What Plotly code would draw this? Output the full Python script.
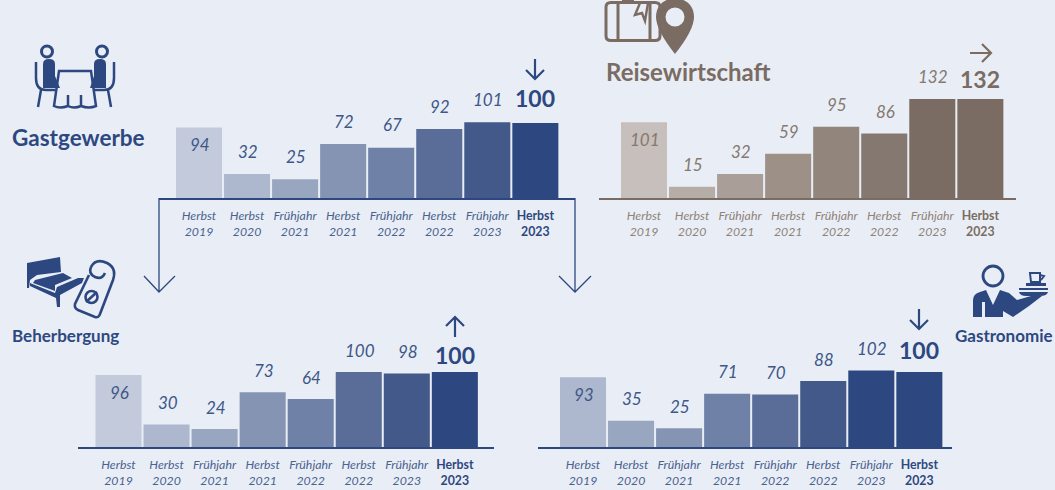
import plotly.graph_objects as go

WIDTH, HEIGHT = 1055, 490
BG = "#E9EEF6"
NAVY = "#2D4880"
BROWN = "#7A6C62"

seasons = ["Herbst", "Herbst", "Frühjahr", "Herbst", "Frühjahr", "Herbst", "Frühjahr", "Herbst"]
years = ["2019", "2020", "2021", "2021", "2022", "2022", "2023", "2023"]

gastgewerbe = [94, 32, 25, 72, 67, 92, 101, 100]
reisewirtschaft = [101, 15, 32, 59, 95, 86, 132, 132]
beherbergung = [96, 30, 24, 73, 64, 100, 98, 100]
gastronomie = [93, 35, 25, 71, 70, 88, 102, 100]

navy_a = ["#C2CADB", "#ADB8CE", "#98A6BF", "#8594B2", "#6F81A6", "#5A6C98", "#42598A", "#2D4880"]
navy_b = ["#ADB8CE", "#98A6BF", "#8594B2", "#6F81A6", "#5A6C98", "#42598A", "#2D4880", "#2D4880"]
brown_a = ["#C7BFBB", "#B7ADA7", "#A99F98", "#9C9087", "#92857C", "#857870", "#7A6C62", "#7A6C62"]

# name, values, colours, main, tick colour, value colour, first bar centre, line left, line right, baseline, label shift, last shift
panels = [
    ("gast", gastgewerbe, navy_a, NAVY, "#4A6290", "#3D5787", 199, 159, 575, 198, 23, 25),
    ("reise", reisewirtschaft, brown_a, BROWN, "#8E8279", "#857870", 644, 599, 1016, 198, 22.5, 20),
    ("beher", beherbergung, navy_a, NAVY, "#4A6290", "#3D5787", 118.5, 78, 494, 447, 22, 17),
    ("gastro", gastronomie, navy_b, NAVY, "#4A6290", "#3D5787", 583, 538, 952, 447, 22, 22),
]
STEP = 48.05
PX_PER_UNIT = 0.75
PLOT_PX = 120

fig = go.Figure()
annotations = []
layout_axes = {}

for i, (name, values, colors, main, tickc, valc, x0, left, right, base, lab, lastlab) in enumerate(panels, start=1):
    xa, ya = f"x{i}", f"y{i}"
    ticktext = [f"<i>{s}<br>{y}</i>" for s, y in zip(seasons[:-1], years[:-1])]
    ticktext.append(f'<b><span style="color:{main}">{seasons[-1]}<br>{years[-1]}</span></b>')
    fig.add_trace(go.Bar(x=list(range(len(values))), y=values, marker=dict(color=colors, line_width=0),
                         xaxis=xa, yaxis=ya, showlegend=False, hoverinfo="skip"))
    suffix = "" if i == 1 else str(i)
    layout_axes["xaxis" + suffix] = dict(
        domain=[left / WIDTH, right / WIDTH], range=[(left - x0) / STEP, (right - x0) / STEP],
        anchor=ya, tickmode="array", tickvals=list(range(8)), ticktext=ticktext,
        tickfont=dict(family="Lato", size=12.3, color=tickc), tickangle=0, ticks="",
        ticklabelstandoff=5, showgrid=False, zeroline=False, showline=True, linecolor=main, linewidth=1.5,
    )
    layout_axes["yaxis" + suffix] = dict(
        domain=[1 - base / HEIGHT, 1 - (base - PLOT_PX) / HEIGHT], range=[0, PLOT_PX / PX_PER_UNIT],
        anchor=xa, visible=False,
    )
    for k, v in enumerate(values):
        last = k == len(values) - 1
        shift = -17 if k == 0 else (lastlab if last else lab)
        annotations.append(dict(
            x=k, y=v, xref=xa, yref=ya, yshift=shift, xshift=0 if last else 1,
            showarrow=False, yanchor="middle", xanchor="center",
            text=f"<b>{v}</b>" if last else f"<i>{v}</i>",
            font=dict(family="Lato", size=23 if last else 17, color=main if last else valc),
        ))

# full-page pixel layer for the icons, connectors and headings
fig.add_trace(go.Scatter(x=[], y=[], xaxis="x5", yaxis="y5", showlegend=False, hoverinfo="skip"))
layout_axes["xaxis5"] = dict(domain=[0, 1], range=[0, WIDTH], visible=False, anchor="y5")
layout_axes["yaxis5"] = dict(domain=[0, 1], range=[HEIGHT, 0], visible=False, anchor="x5")

shapes = []


def fill(path, color=NAVY):
    shapes.append(dict(type="path", path=path, xref="x5", yref="y5", fillcolor=color, line_width=0, layer="above"))


def stroke(path, color=NAVY, w=1.5):
    shapes.append(dict(type="path", path=path, xref="x5", yref="y5", line=dict(color=color, width=w), layer="above"))


def ring(cx, cy, r, color=NAVY, w=2.5):
    shapes.append(dict(type="circle", xref="x5", yref="y5", x0=cx - r, x1=cx + r, y0=cy - r, y1=cy + r,
                       line=dict(color=color, width=w), fillcolor="rgba(0,0,0,0)", layer="above"))


def disc(cx, cy, r, color):
    shapes.append(dict(type="circle", xref="x5", yref="y5", x0=cx - r, x1=cx + r, y0=cy - r, y1=cy + r,
                       line_width=0, fillcolor=color, layer="above"))


# connector arrows from the Gastgewerbe chart
stroke("M159,198 L159,292 M144,276 L159,292 L175,276", NAVY, 1.3)
stroke("M575,198 L575,292 M559,276 L575,292 L591,276", NAVY, 1.3)

# trend arrows
stroke("M535,59 L535,79 M526,70 L535,79 L544,70", NAVY, 2.2)
stroke("M970,53 L990,53 M982,44 L991,53 L982,62", BROWN, 2.2)
stroke("M455,337 L455,317 M446,326 L455,317 L464,326", NAVY, 2.2)
stroke("M919,309 L919,329 M910,320 L919,329 L928,320", NAVY, 2.2)

# table icon
ring(47, 51.5, 5.5, NAVY, 3)
ring(102, 51.5, 5.5, NAVY, 3)
fill("M43,64 Q43,59 49,59 Q55,59 55,64 L55,76 L60,88 L43,88 Z")
fill("M106,64 Q106,59 100,59 Q94,59 94,64 L94,76 L90,88 L106,88 Z")
stroke("M36,62 L36,78 Q36,90 46,90 L55,90 M41,90 L38,107 M114,62 L114,78 Q114,90 104,90 L94,90 M108,90 L111,107", NAVY, 2.5)
stroke("M59,71 L91,71 L96,106 Q89,109 81,106 Q74,109 68,106 Q60,109 54,106 Z M68,95 L68,106 M81,95 L81,106", NAVY, 2.5)

# suitcase and pin icon
stroke("M611,2.5 L655,2.5 Q660,2.5 660,7 L660,36 Q660,40.5 655,40.5 L611,40.5 Q606,40.5 606,36 L606,7 Q606,2.5 611,2.5 Z M618,2 L618,41 M650,2 L650,41 M622,0.5 L634,0.5", BROWN, 3)
stroke("M640,3 L635,15 L642,13 L645,21 L648,3", BROWN, 2.4)
fill("M675,54 Q656,30 656,17 C656,-8 694,-8 694,17 Q694,30 675,54 Z", BROWN)
disc(675, 17, 9.5, BG)

# bed and door-hanger icon
fill("M27,263 L60,257 L61,272 L37,275 L30,280 L29,288 L27,288 Z")
fill("M35,280 L63,273 L72,278 L55,285 L55,291 L33,283 Z")
fill("M30,283 L55,293 L57,287 L78,278 L84,278 L82,283 L60,295 L60,307 L57,307 L56,298 L30,286 Z")
stroke("M89,275 L75,304 Q74,308 78,310 L95,317 Q99,318 100,314 L113,280 Q117,268 107,263 Q96,258 91,267 M91,267 Q88,274 95,277 Q102,280 105,273", NAVY, 2.6)
ring(91.5, 297, 6, NAVY, 2.6)
stroke("M86,302 L97,292", NAVY, 2.6)

# waiter icon
ring(993, 276, 10, NAVY, 2.8)
fill("M973,317 L973,300 Q973,294 980,292 L986,290 L993,305 L1000,290 L1009,293 L1017,300 L1031,296 L1042,296 L1029,306 L1013,317 L1003,311 L1003,317 L985,317 L985,302 L982,302 L982,317 Z")
fill("M1019,288 L1048,288 L1048,290 L1019,290 Z M1019,292 L1048,292 Q1047,296 1040,296 L1026,296 Q1020,296 1019,292 Z")
fill("M1026,283 L1046,283 L1046,286 L1026,286 Z")
stroke("M1030,273 L1040,273 L1040,282 L1031,282 Z M1040,275 L1044,276 L1041,280", NAVY, 2)

# headings
for text, x, y, size, color, anchor in [
    ("Gastgewerbe", 10, 137, 22.5, NAVY, "left"),
    ("Reisewirtschaft", 604, 71, 24, BROWN, "left"),
    ("Beherbergung", 10, 335, 17, NAVY, "left"),
    ("Gastronomie", 953, 335, 17, NAVY, "left"),
]:
    annotations.append(dict(x=x, y=y, xref="x5", yref="y5", xanchor=anchor, yanchor="middle", showarrow=False,
                            text=f"<b>{text}</b>", font=dict(family="Lato", size=size, color=color)))

fig.update_layout(
    width=WIDTH, height=HEIGHT, margin=dict(l=0, r=0, t=0, b=0), autosize=False,
    paper_bgcolor=BG, plot_bgcolor="rgba(0,0,0,0)", bargap=2 / 48, showlegend=False,
    shapes=shapes, annotations=annotations, **layout_axes,
)
fig.write_html("out.html", post_script="document.body.style.margin='0';document.body.style.background='%s';document.documentElement.style.overflow='hidden';" % BG,
               config={"displayModeBar": False})
